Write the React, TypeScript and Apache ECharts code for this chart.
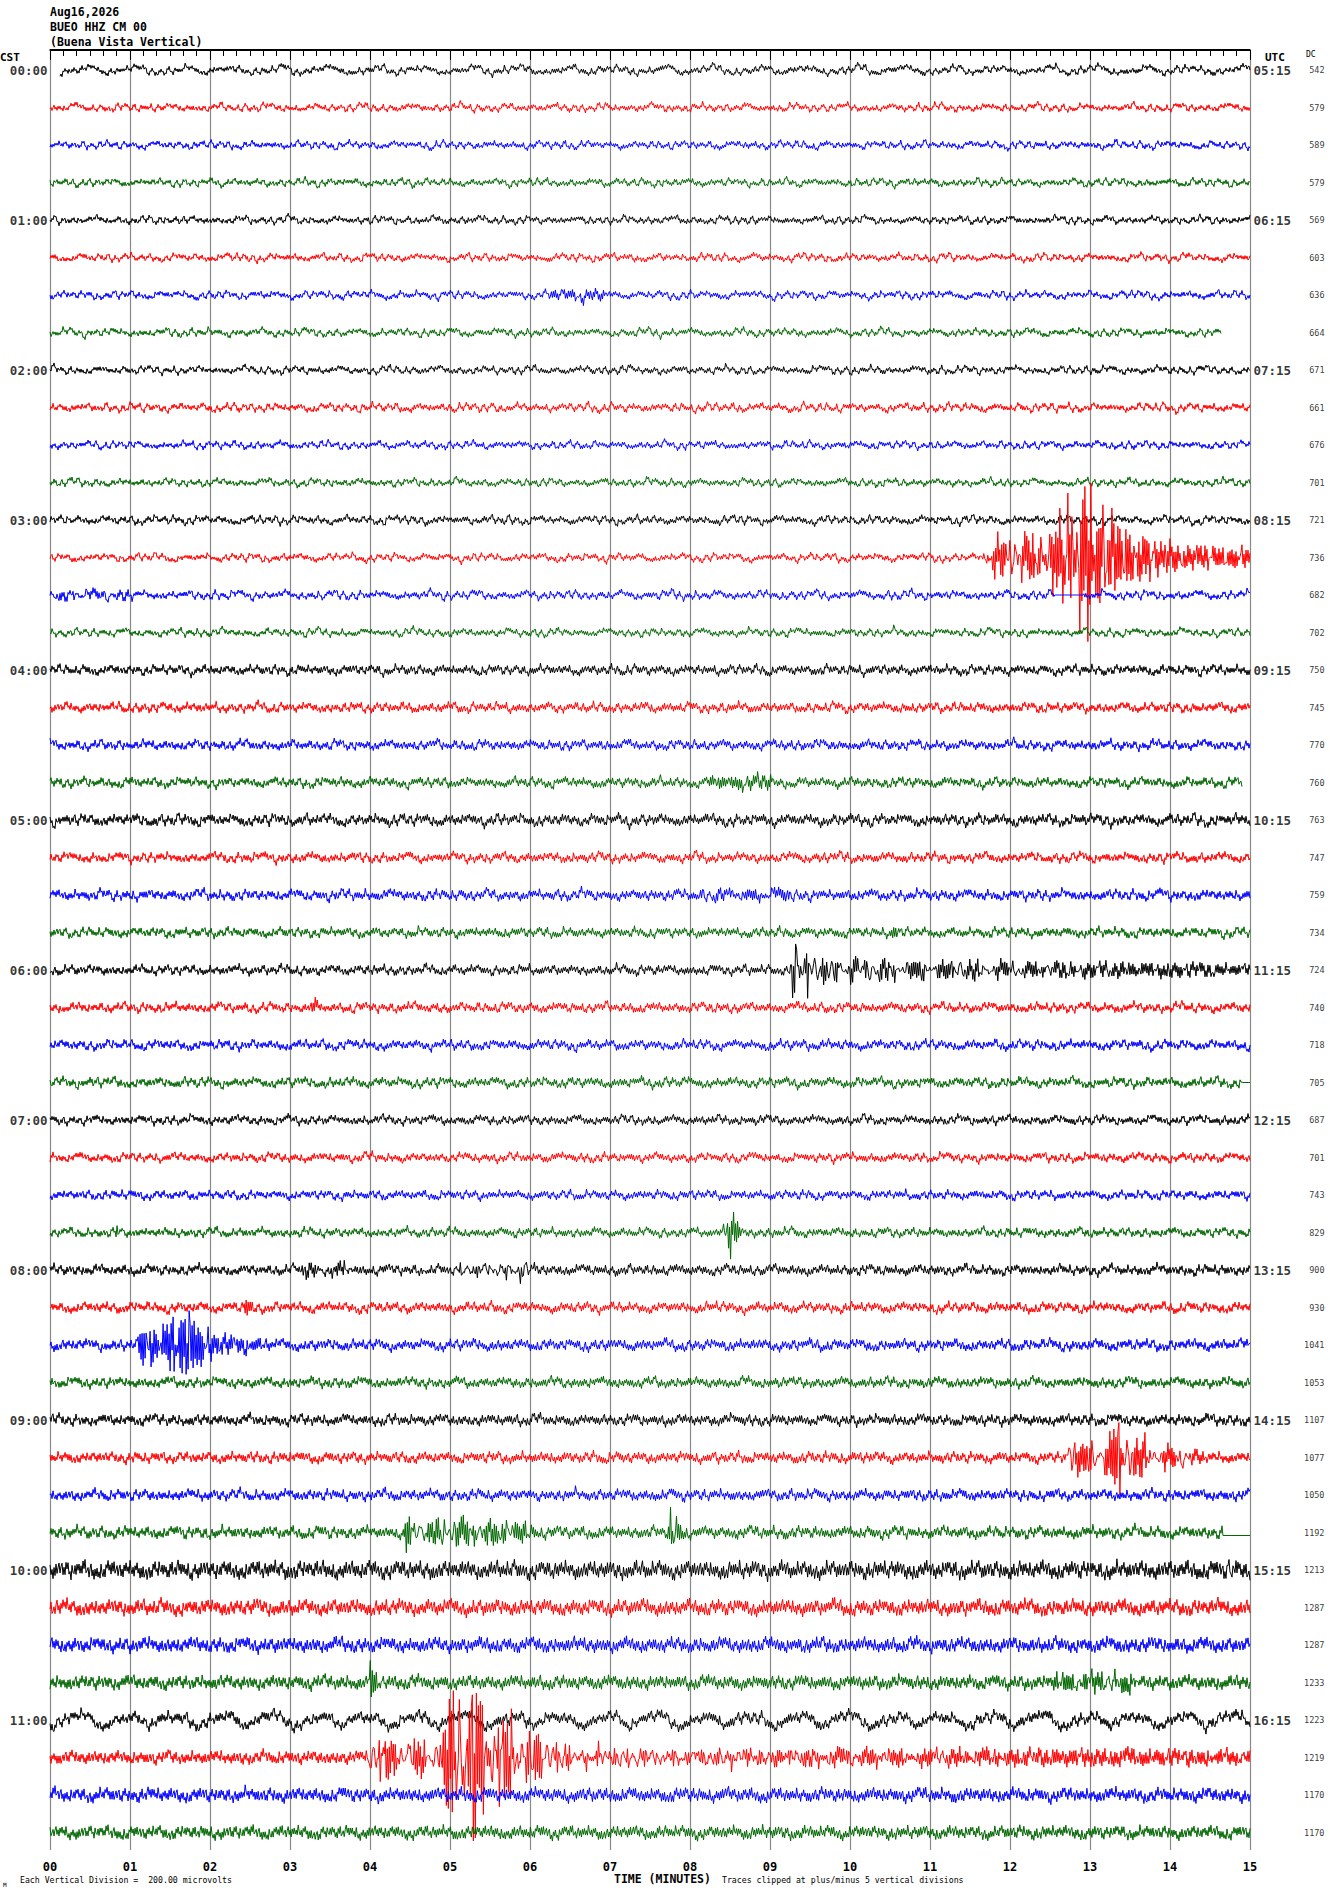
import React, { useEffect, useRef } from "react";
import * as echarts from "echarts";

const TITLE_LINES = ["Aug16,2026", "BUEO HHZ CM 00", "(Buena Vista Vertical)"];
const LEFT_TIMES = ["00:00", "01:00", "02:00", "03:00", "04:00", "05:00", "06:00", "07:00", "08:00", "09:00", "10:00", "11:00"];
const RIGHT_TIMES = ["05:15", "06:15", "07:15", "08:15", "09:15", "10:15", "11:15", "12:15", "13:15", "14:15", "15:15", "16:15"];
const DC_VALUES = [
  542, 579, 589, 579, 569, 603, 636, 664, 671, 661, 676, 701,
  721, 736, 682, 702, 750, 745, 770, 760, 763, 747, 759, 734,
  724, 740, 718, 705, 687, 701, 743, 829, 900, 930, 1041, 1053,
  1107, 1077, 1050, 1192, 1213, 1287, 1287, 1233, 1223, 1219, 1170, 1170,
];
const X_TICKS = ["00", "01", "02", "03", "04", "05", "06", "07", "08", "09", "10", "11", "12", "13", "14", "15"];
const TRACE_COLORS = ["#000000", "#ff0000", "#0000ff", "#006600"];

// background noise level per trace (half range, in trace-offset units)
const NOISE = [
  5, 5, 5, 5, 5, 5, 5, 5, 5, 5.5, 5, 5,
  5.5, 5, 5.5, 5, 6, 6, 6, 6, 7, 6, 6.5, 6,
  6, 6, 6, 6, 5.5, 5.5, 5.5, 5.5, 6, 6, 6.5, 6,
  6.5, 6.5, 6.5, 7, 9.5, 8.5, 8, 7.5, 7.5, 7, 7.5, 7,
];
// long-period wander per trace
const WANDER = [
  3, 1.5, 1.5, 1.5, 1.5, 1.5, 1.5, 1.5, 1.5, 1.5, 1.5, 1.5,
  1.5, 1.5, 1.5, 1.5, 1.5, 1.5, 1.5, 1.5, 1.5, 1.5, 1.5, 1.5,
  1.5, 1.5, 1.5, 1.5, 1.5, 1.5, 1.5, 1.5, 1.5, 1.5, 1.5, 1.5,
  1.5, 1.5, 1.5, 1.5, 1.5, 1.5, 1.5, 1.5, 7, 1.5, 1.5, 1.5,
];
// share of short-period energy in the background noise
const ROUGH = [
  0.5, 0.5, 0.5, 0.5, 0.5, 0.5, 0.5, 0.5, 0.5, 0.5, 0.5, 0.5,
  0.5, 0.5, 0.5, 0.5, 0.6, 0.6, 0.6, 0.6, 0.6, 0.6, 0.6, 0.6,
  0.6, 0.6, 0.6, 0.6, 0.6, 0.6, 0.6, 0.6, 0.65, 0.65, 0.65, 0.65,
  0.65, 0.65, 0.65, 0.65, 0.75, 0.75, 0.75, 0.75, 0.6, 0.75, 0.75, 0.75,
];

// events: [trace index, envelope knots [minute, amplitude]]
const EVENTS: [number, [number, number][]][] = [
  [6, [[6.2, 0], [6.3, 3], [6.9, 3], [7.0, 0]]],
  [13, [[11.62, 0], [11.66, 18], [12.0, 22], [12.4, 28], [12.6, 42], [12.95, 85], [13.05, 65], [13.3, 42], [13.6, 26], [13.9, 15], [14.2, 11], [15, 9]]],
  [14, [[0, 3], [1.0, 2], [1.1, 0]]],
  [19, [[8.2, 0], [8.3, 4], [9.0, 4], [9.1, 0]]],
  [22, [[8.0, 0], [8.1, 3], [9.3, 3], [9.4, 0]]],
  [23, [[10.5, 0], [10.55, 5], [10.6, 0]]],
  [24, [[9.22, 0], [9.25, 20], [9.3, 32], [9.45, 28], [9.55, 17], [10.0, 12], [10.5, 9], [12.0, 6], [14.0, 4], [15, 2]]],
  [25, [[3.25, 0], [3.3, 6], [3.4, 0]]],
  [31, [[0.8, 0], [0.85, 5], [0.95, 0]]],
  [31, [[8.4, 0], [8.43, 28], [8.55, 18], [8.65, 0]]],
  [32, [[3.0, 0], [3.05, 4], [3.85, 4], [3.9, 0]]],
  [32, [[4.65, 0], [4.69, 14], [4.75, 0]]],
  [32, [[5.0, 0], [5.05, 5], [5.85, 6], [5.91, 18], [6.0, 6], [6.1, 0]]],
  [33, [[2.42, 0], [2.45, 9], [2.55, 0]]],
  [34, [[1.1, 0], [1.12, 20], [1.4, 17], [1.6, 35], [1.75, 33], [1.95, 14], [2.1, 7], [2.5, 4], [2.8, 0]]],
  [37, [[12.7, 0], [12.72, 26], [12.85, 16], [13.2, 18], [13.35, 44], [13.5, 23], [13.95, 10], [14.3, 4], [14.5, 0]]],
  [39, [[4.42, 0], [4.45, 18], [4.7, 9], [5.0, 14], [5.9, 8], [6.1, 0]]],
  [39, [[7.72, 0], [7.76, 22], [7.85, 9], [7.95, 0]]],
  [40, [[14.7, 0], [14.75, 13], [14.85, 0]]],
  [43, [[3.95, 0], [3.98, 32], [4.05, 9], [4.3, 0]]],
  [43, [[12.5, 0], [12.6, 6], [13.6, 6], [13.7, 0]]],
  [45, [[3.98, 0], [4.0, 26], [4.3, 18], [4.7, 17], [4.9, 23], [5.0, 75], [5.3, 82], [5.6, 50], [5.9, 36], [6.25, 22], [6.4, 10], [8, 7], [11, 5], [15, 3]]],
];
const TRACE_START: [number, number][] = [[0, 0.125]];
const TRACE_END: [number, number][] = [[7, 14.64], [19, 14.9]];
// flat (dead) segments: [trace, from, to, level]
const FLATS: [number, number, number, number][] = [[14, 12.56, 12.92, 0], [27, 14.9, 15, 0], [39, 14.66, 15, 3]];

// hand-typed waveform textures (short, medium and long period wiggles)
const HF = [0.9, -0.7, 0.4, -1.0, 0.6, 0.1, -0.5, 0.8, -0.3, -0.9, 0.7, -0.2, 1.0, -0.6, 0.3, -0.8, 0.5, -0.1, 0.9, -1.0, 0.2, 0.6, -0.4, 0.8, -0.7, 0.0, -0.9, 0.5, -0.3];
const HF2 = [-0.8, 0.9, -0.4, 0.7, -1.0, 0.5, -0.2, 0.8, -0.9, 0.3, -0.6, 1.0, -0.5, 0.2, -0.7, 0.9, -0.3, 0.6, -1.0, 0.4, -0.1, 0.8, -0.6, 0.95, -0.45, 0.3, -0.85, 0.7, -0.2, 0.5, -0.75];
const MF = [0.0, 0.4, 0.8, 0.9, 0.5, 0.0, -0.5, -0.9, -0.7, -0.2, 0.3, 0.7, 1.0, 0.6, 0.1, -0.3, -0.8, -1.0, -0.6, -0.1, 0.2, 0.5, 0.3, -0.2, -0.6, -0.4, 0.1, 0.6, 0.9, 0.7, 0.2, -0.4, -0.8, -0.9, -0.5, 0.0, 0.5, 0.8, 0.4, -0.1, -0.5, -0.6, -0.3];
const LF = [0, 0.15, 0.3, 0.45, 0.6, 0.7, 0.8, 0.85, 0.8, 0.7, 0.55, 0.4, 0.2, 0, -0.2, -0.4, -0.55, -0.7, -0.8, -0.85, -0.8, -0.7, -0.5, -0.3, -0.1, 0.1, 0.3, 0.5, 0.65, 0.75, 0.8, 0.75, 0.6, 0.45, 0.3, 0.1, -0.1, -0.3, -0.5, -0.65, -0.75, -0.9, -1.0, -0.95, -0.85, -0.7, -0.5, -0.3, -0.1, 0.1, 0.3, 0.45, 0.6, 0.75, 0.9, 1.0, 0.95, 0.85, 0.7, 0.5, 0.3, 0.15, 0, -0.15, -0.3, -0.4, -0.5, -0.55, -0.6, -0.55, -0.45, -0.3, -0.15, 0, 0.2, 0.4, 0.55, 0.65, 0.7, 0.6, 0.45, 0.3, 0.1, -0.1, -0.25, -0.4, -0.5, -0.6, -0.65, -0.6, -0.5, -0.4, -0.3, -0.2, -0.1, -0.05];

const TRACE_COUNT = 48;
const SAMPLES = 1200;
const MINUTES = 15;
const ROW = 37.5;
const FIRST_ROW = 20;
const Y_RANGE = 1800;
const CLIP = 95;

const tex = (arr: number[], i: number) => arr[((i % arr.length) + arr.length) % arr.length];

function envAt(knots: [number, number][], t: number) {
  if (t < knots[0][0] || t > knots[knots.length - 1][0]) return 0;
  for (let j = 0; j < knots.length - 1; j++) {
    const [t0, a0] = knots[j];
    const [t1, a1] = knots[j + 1];
    if (t >= t0 && t <= t1) return t1 === t0 ? a1 : a0 + ((a1 - a0) * (t - t0)) / (t1 - t0);
  }
  return 0;
}

const baseline = (k: number) => FIRST_ROW + ROW * k;

function traceData(k: number) {
  const start = (TRACE_START.find((s) => s[0] === k) || [k, 0])[1];
  const end = (TRACE_END.find((s) => s[0] === k) || [k, MINUTES])[1];
  const evs = EVENTS.filter((e) => e[0] === k).map((e) => e[1]);
  const flats = FLATS.filter((f) => f[0] === k);
  const base = baseline(k);
  const out: number[][] = [];
  for (let i = 0; i < SAMPLES; i++) {
    const t = (i * MINUTES) / (SAMPLES - 1);
    if (t < start || t > end) continue;
    const fl = flats.find((f) => t >= f[1] && t <= f[2]);
    if (fl) {
      out.push([t, base + fl[3]]);
      continue;
    }
    const h = tex(HF, i + k * 5);
    const h2 = tex(HF2, i + k * 11 + 13);
    const m = tex(MF, i + k * 9);
    const m3 = tex(LF, i * 3 + k * 7);
    const l = tex(LF, i + k * 17);
    const l2 = tex(LF, Math.floor(i / 2) + k * 29);
    const r = ROUGH[k];
    let v = NOISE[k] * (r * h + (1 - r) * (0.65 * m + 0.55 * m3) + 0.3 * l) + WANDER[k] * l2;
    let e = 0;
    for (const kn of evs) e += envAt(kn, t);
    v += e * (0.6 * h2 + 0.35 * h + 0.25 * m);
    v = Math.max(-CLIP, Math.min(CLIP, v));
    out.push([t, base + v]);
  }
  return out;
}

const FONT = '"DejaVu Sans Mono", "Liberation Mono", monospace';

export default function App() {
  const ref = useRef<HTMLDivElement>(null);
  useEffect(() => {
    if (!ref.current) return;
    const chart = echarts.init(ref.current, undefined, { renderer: "svg" });
    const traces: any[] = [];
    for (let k = 0; k < TRACE_COUNT; k++) {
      traces.push({
        type: "line",
        data: traceData(k),
        showSymbol: false,
        symbol: "none",
        silent: true,
        lineStyle: { color: TRACE_COLORS[k % 4], width: 1 },
        itemStyle: { color: TRACE_COLORS[k % 4] },
        z: 3,
      });
    }
    const labelSeries = (data: any[], label: any) => ({
      type: "scatter",
      data,
      symbolSize: 1,
      itemStyle: { color: "rgba(0,0,0,0)" },
      silent: true,
      label: { show: true, formatter: (p: any) => p.name, color: "#000", fontFamily: FONT, ...label },
      z: 5,
    });
    const option: any = {
      animation: false,
      backgroundColor: "#ffffff",
      grid: { left: 50, top: 50, width: 1200, height: 1800, containLabel: false },
      xAxis: {
        type: "value",
        min: 0,
        max: MINUTES,
        interval: 1,
        axisLine: { show: true, lineStyle: { color: "#000", width: 1.5 } },
        axisTick: { show: true, length: 10, lineStyle: { color: "#000", width: 1 } },
        minorTick: { show: true, splitNumber: 6, length: 6, lineStyle: { color: "#000", width: 1 } },
        splitLine: { show: true, lineStyle: { color: "#888888", width: 1.2 } },
        minorSplitLine: { show: false },
        axisLabel: {
          formatter: (v: number) => X_TICKS[Math.round(v)] ?? "",
          fontFamily: FONT,
          fontWeight: "bold",
          fontSize: 12,
          color: "#000",
          margin: 11,
        },
      },
      yAxis: { type: "value", min: 0, max: Y_RANGE, inverse: true, show: false },
      series: [
        ...traces,
        labelSeries(
          LEFT_TIMES.map((s, j) => ({ name: s, value: [0, baseline(j * 4)] })),
          { position: "left", distance: 2, fontSize: 12.5, fontWeight: "bold" }
        ),
        labelSeries(
          RIGHT_TIMES.map((s, j) => ({ name: s, value: [MINUTES, baseline(j * 4)] })),
          { position: "right", distance: 3, fontSize: 12.5, fontWeight: "bold" }
        ),
        labelSeries(
          DC_VALUES.map((d, k) => ({ name: String(d), value: [MINUTES, baseline(k)] })),
          { position: "right", distance: 0, offset: [74, 0], align: "right", fontSize: 8.5 }
        ),
      ],
      graphic: [
        ...TITLE_LINES.map((s, j) => ({
          type: "text",
          x: 50,
          y: 12 + j * 15,
          style: { text: s, font: `bold 11.5px ${FONT}`, fill: "#000", verticalAlign: "middle" },
        })),
        { type: "text", x: 0, y: 57, style: { text: "CST", font: `bold 11px ${FONT}`, fill: "#000", verticalAlign: "middle" } },
        { type: "text", x: 1265, y: 57, style: { text: "UTC", font: `bold 11px ${FONT}`, fill: "#000", verticalAlign: "middle" } },
        { type: "text", x: 1306, y: 54, style: { text: "DC", font: `8px ${FONT}`, fill: "#000", verticalAlign: "middle" } },
        { type: "line", shape: { x1: 50, y1: 50, x2: 1250, y2: 50 }, style: { stroke: "#000", lineWidth: 2 } },
        { type: "text", x: 614, y: 1879, style: { text: "TIME (MINUTES)", font: `bold 11.5px ${FONT}`, fill: "#000", verticalAlign: "middle" } },
        { type: "text", x: 20, y: 1880, style: { text: "Each Vertical Division =  200.00 microvolts", font: `8.2px ${FONT}`, fill: "#000", verticalAlign: "middle" } },
        { type: "text", x: 722, y: 1880, style: { text: "Traces clipped at plus/minus 5 vertical divisions", font: `8.2px ${FONT}`, fill: "#000", verticalAlign: "middle" } },
        { type: "text", x: 3, y: 1884, style: { text: "M", font: `6px ${FONT}`, fill: "#000", verticalAlign: "middle" } },
      ],
    };
    chart.setOption(option);
    return () => chart.dispose();
  }, []);
  return <div ref={ref} style={{ position: "absolute", left: 0, top: 0, width: 1330, height: 1894, background: "#fff" }} />;
}
